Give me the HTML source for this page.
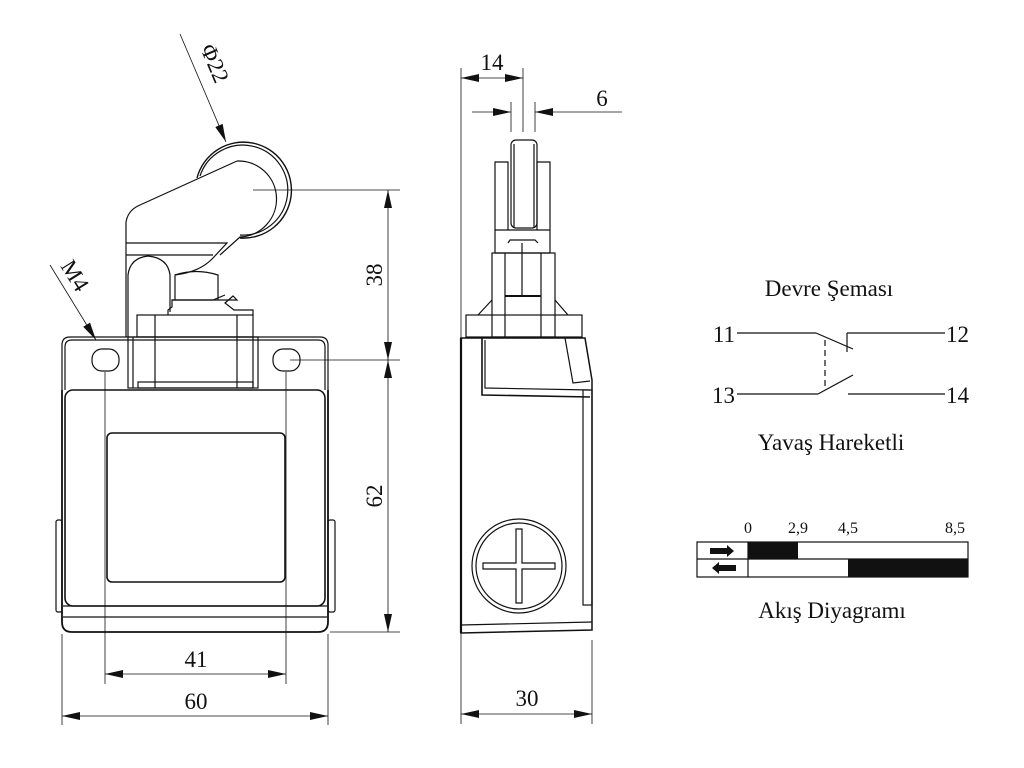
<!DOCTYPE html>
<html><head><meta charset="utf-8"><style>
html,body{margin:0;padding:0;background:#fff;}
svg{display:block;}
</style></head><body>
<svg width="1024" height="768" viewBox="0 0 1024 768" xmlns="http://www.w3.org/2000/svg">
<defs>
<marker id="b" viewBox="0 0 18 8" refX="18" refY="4" markerWidth="18" markerHeight="8" orient="auto-start-reverse" markerUnits="userSpaceOnUse"><path d="M0,0 L18,4 L0,8 Z" fill="#111"/></marker>
</defs>
<g fill="none" stroke="#111" stroke-width="1.2">
<path d="M62,345 Q62,337 70,337 L320,337 Q328,337 328,345 L328,390"/>
<path d="M65,347 Q65,340 72,340 L318,340 Q325,340 325,347 L325,390"/>
<line x1="62" y1="345" x2="62" y2="390"/>
<line x1="65" y1="347" x2="65" y2="390"/>
<rect x="92" y="349" width="27" height="22" rx="10"/>
<rect x="273" y="349" width="27" height="22" rx="10"/>
<path d="M62,390 L62,622 Q62,632 72,632 L318,632 Q328,632 328,622 L328,390" stroke-width="1.8"/>
<rect x="65" y="390" width="260" height="216" rx="8" stroke-width="1.6"/>
<line x1="63" y1="606" x2="327" y2="606"/>
<line x1="63" y1="617" x2="327" y2="617"/>
<rect x="107" y="433" width="178" height="149" rx="5" stroke-width="1.6"/>
<rect x="56" y="520" width="6" height="92" rx="2"/>
<rect x="328" y="520" width="7" height="92" rx="2"/>
<rect x="128" y="337" width="130" height="51"/>
<line x1="133" y1="337" x2="133" y2="388"/>
<line x1="253" y1="337" x2="253" y2="388"/>
<line x1="155" y1="315" x2="155" y2="388"/>
<line x1="237" y1="315" x2="237" y2="388"/>
<rect x="138" y="382" width="115" height="6"/>
<rect x="137" y="315" width="116" height="22"/>
<path d="M168,315 L168,310 L172,307 L172,300 L237,300 L233,296 L225,303 L234,310 L253,310 L253,315"/>
<path d="M175,300 L175,275 Q196,268 218,275 L218,300"/>
<path d="M172,300 L213,300 L225,295"/>
<path d="M126,337 L126,222 Q128,210 140,205 L237,161"/>
<path d="M237,161 A38,38 0 0 1 240,237 L220,255"/>
<path d="M126,243 L227,243 L213,258 Q200,272 175,275"/>
<path d="M126,255 L213,255"/>
<path d="M128,337 L128,275 Q130,258 148,256 Q168,258 170,275 L170,312"/>
<path d="M197,178 A48,48 0 1 1 240,238" stroke-width="1.4"/>
<path d="M200,176 A45,45 0 1 1 240,235"/>
<g stroke-width="0.8">
<line x1="253" y1="190" x2="400" y2="190"/>
<line x1="290" y1="360" x2="400" y2="360"/>
<line x1="330" y1="632" x2="400" y2="632"/>
<line x1="388" y1="190" x2="388" y2="360" marker-start="url(#b)" marker-end="url(#b)"/>
<line x1="388" y1="360" x2="388" y2="632" marker-start="url(#b)" marker-end="url(#b)"/>
<line x1="105" y1="372" x2="105" y2="684"/>
<line x1="286" y1="372" x2="286" y2="684"/>
<line x1="62" y1="634" x2="62" y2="725"/>
<line x1="328" y1="634" x2="328" y2="725"/>
<line x1="105" y1="674" x2="286" y2="674" marker-start="url(#b)" marker-end="url(#b)"/>
<line x1="62" y1="716" x2="328" y2="716" marker-start="url(#b)" marker-end="url(#b)"/>
<line x1="180" y1="34" x2="226" y2="142" marker-end="url(#b)"/>
<line x1="50" y1="265" x2="96" y2="340" marker-end="url(#b)"/>
</g>
<rect x="511" y="140" width="26" height="88" rx="5"/>
<line x1="514" y1="144" x2="514" y2="228"/><line x1="534" y1="144" x2="534" y2="228"/>
<path d="M495,253 L495,162 L508,162 L508,230"/>
<path d="M550,253 L550,162 L537,162 L537,230"/>
<path d="M495,230 L550,230 M495,253 L550,253"/>
<path d="M508,243 L510,240 L535,240 L538,243"/>
<line x1="522" y1="243" x2="522" y2="295"/>
<rect x="492" y="253" width="63" height="84"/>
<line x1="505" y1="253" x2="505" y2="337"/><line x1="541" y1="253" x2="541" y2="337"/>
<line x1="505" y1="296" x2="541" y2="296" stroke-width="2"/>
<rect x="466" y="315" width="116" height="22"/>
<path d="M492,300 L478,315 M555,300 L568,315"/>
<path d="M461,338 L585,338 L592,380 L592,630 L461,633 Z" stroke-width="1.5"/>
<path d="M482,338 L482,395 L590,397" stroke-width="1.6"/>
<path d="M485,340 L485,388 L590,390"/>
<path d="M565,338 L573,383 L590,381"/>
<rect x="583" y="390" width="9" height="215"/>
<line x1="461" y1="625" x2="592" y2="622"/>
<line x1="461" y1="338" x2="461" y2="633" stroke-width="2.2"/>
<circle cx="519" cy="566" r="47"/>
<circle cx="519" cy="566" r="43"/>
<path d="M516,529 L522,529 L522,563 L555,563 L555,569 L522,569 L522,603 L516,603 L516,569 L483,569 L483,563 L516,563 Z"/>
<g stroke-width="0.8">
<line x1="461" y1="68" x2="461" y2="338"/>
<line x1="461" y1="633" x2="461" y2="724"/>
<line x1="592" y1="640" x2="592" y2="724"/>
<line x1="523" y1="68" x2="523" y2="132"/>
<line x1="511" y1="102" x2="511" y2="132"/>
<line x1="535" y1="102" x2="535" y2="132"/>
<line x1="461" y1="78" x2="523" y2="78" marker-start="url(#b)" marker-end="url(#b)"/>
<line x1="472" y1="112" x2="511" y2="112" marker-end="url(#b)"/>
<line x1="622" y1="112" x2="535" y2="112" marker-end="url(#b)"/>
<line x1="461" y1="714" x2="592" y2="714" marker-start="url(#b)" marker-end="url(#b)"/>
</g>
<line x1="737" y1="333" x2="816" y2="333"/>
<line x1="816" y1="333" x2="853" y2="349"/>
<line x1="847" y1="333" x2="847" y2="352"/>
<line x1="847" y1="333" x2="945" y2="333"/>
<line x1="737" y1="394" x2="818" y2="394"/>
<line x1="818" y1="394" x2="853" y2="375"/>
<line x1="848" y1="394" x2="945" y2="394"/>
<line x1="825" y1="340" x2="825" y2="388" stroke-dasharray="6,4"/>
<rect x="697" y="542" width="271" height="35"/>
<line x1="697" y1="559" x2="968" y2="559"/>
<line x1="748" y1="542" x2="748" y2="577"/>
</g>
<rect x="748" y="542" width="50" height="17" fill="#111"/>
<rect x="848" y="559" width="120" height="18" fill="#111"/>
<path d="M710,548 L727,548 L727,545 L734,551 L727,557 L727,554 L710,554 Z" fill="#111"/>
<path d="M736,565 L719,565 L719,562 L712,568 L719,574 L719,571 L736,571 Z" fill="#111"/>
<g font-family="Liberation Serif, serif" fill="#111" font-size="23">
<text x="200" y="48" transform="rotate(67 200 48)">Φ22</text>
<text x="60" y="266" transform="rotate(58 60 266)">M4</text>
<text x="382" y="275" text-anchor="middle" transform="rotate(-90 382 275)">38</text>
<text x="382" y="496" text-anchor="middle" transform="rotate(-90 382 496)">62</text>
<text x="196" y="667" text-anchor="middle">41</text>
<text x="196" y="709" text-anchor="middle">60</text>
<text x="492" y="70" text-anchor="middle">14</text>
<text x="602" y="106" text-anchor="middle">6</text>
<text x="527" y="706" text-anchor="middle">30</text>
<text x="829" y="296" text-anchor="middle">Devre Şeması</text>
<text x="735" y="342" text-anchor="end">11</text>
<text x="946" y="342">12</text>
<text x="735" y="403" text-anchor="end">13</text>
<text x="946" y="403">14</text>
<text x="831" y="450" text-anchor="middle">Yavaş Hareketli</text>
<text x="832" y="618" text-anchor="middle">Akış Diyagramı</text>
</g>
<g font-family="Liberation Serif, serif" fill="#111" font-size="16">
<text x="748" y="533" text-anchor="middle">0</text>
<text x="798" y="533" text-anchor="middle">2,9</text>
<text x="848" y="533" text-anchor="middle">4,5</text>
<text x="955" y="533" text-anchor="middle">8,5</text>
</g>
</svg>
</body></html>
